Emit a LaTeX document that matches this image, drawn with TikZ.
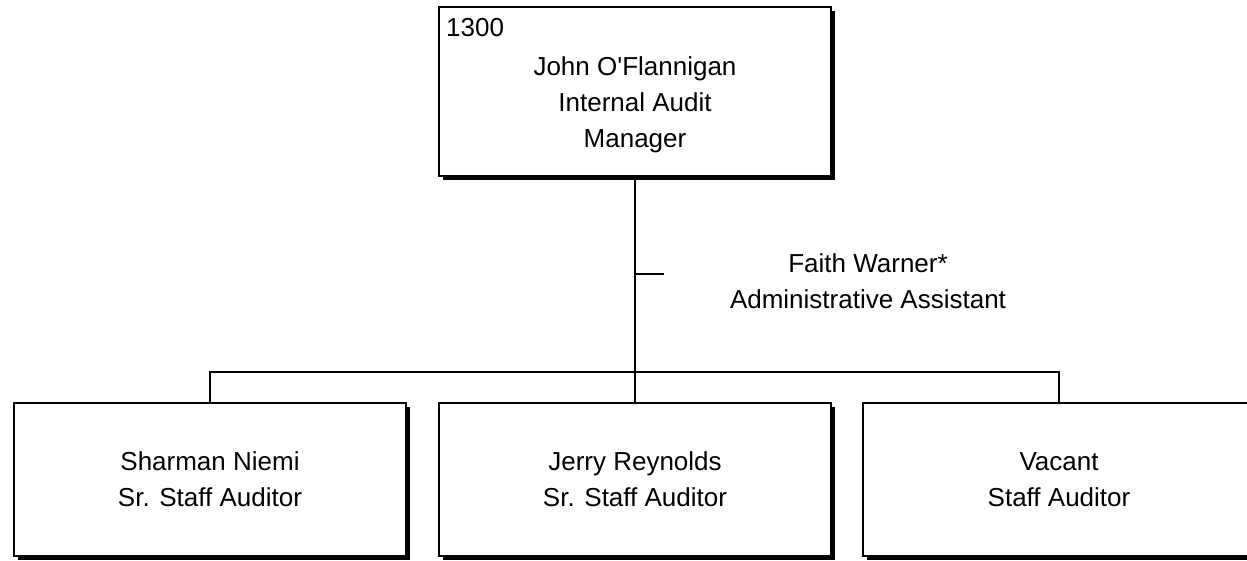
\documentclass[tikz,border=0pt]{standalone}
\usepackage{fontspec}
\newfontfamily\arialf{Liberation Sans}
\usetikzlibrary{shadows}
\begin{document}
\begin{tikzpicture}[x=1pt,y=-1pt,
  txt/.style={align=center, inner sep=0pt, font=\arialf\fontsize{26}{36}\selectfont},
  box/.style={txt, draw, line width=2.2pt, fill=white, inner sep=0pt,
    minimum width=392pt, minimum height=153pt,
    drop shadow={shadow xshift=4pt, shadow yshift=-4pt, fill=black, opacity=1}},
  conn/.style={line width=2pt}]
\useasboundingbox (0,0) rectangle (1247,561);
\clip (0,0) rectangle (1247,561);
\node[box, minimum height=169pt] (mgr) at (635,91.5) {};
\node[txt, anchor=base west] (num) at (446,37) {1300};
\node[txt] (mgrtext) at (635,105) {John O'Flannigan\\Internal Audit\\Manager};
\node[box] (a1) at (210,479.5) {Sharman Niemi\\Sr. Staff Auditor};
\node[box] (a2) at (635,479.5) {Jerry Reynolds\\Sr. Staff Auditor};
\node[box] (a3) at (1059,479.5) {Vacant\\Staff Auditor};
\node[txt] (asst) at (868,281) {Faith Warner*\\Administrative Assistant};
\coordinate (j) at (635,372);
\coordinate (t) at (635,274);
\coordinate (tend) at (664,274);
\draw[conn] (mgr.south) -- (j);
\draw[conn] (j) -| (a1.north);
\draw[conn] (j) -| (a3.north);
\draw[conn] (j) -- (a2.north);
\draw[conn] (t) -- (tend);
\end{tikzpicture}
\end{document}
